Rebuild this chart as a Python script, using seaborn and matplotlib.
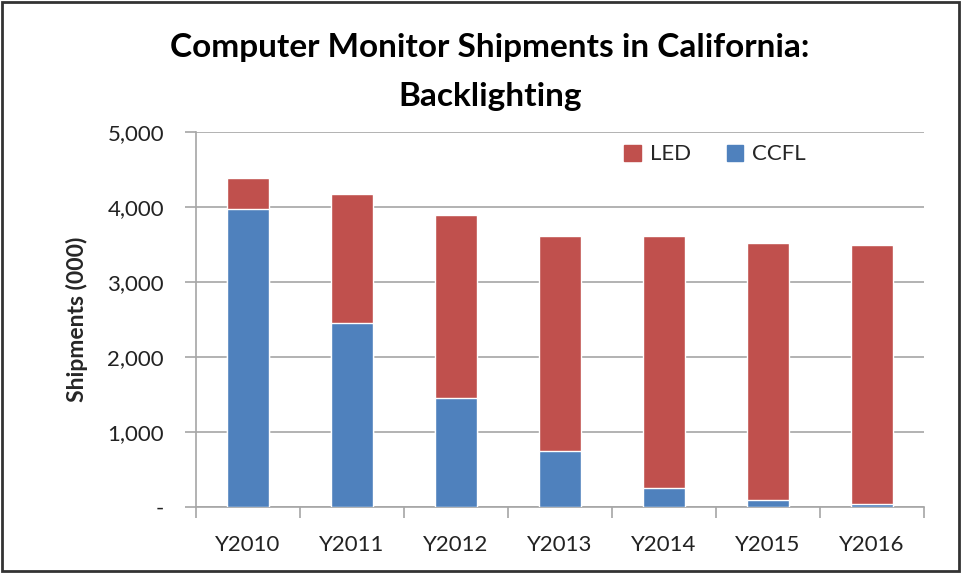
import matplotlib
matplotlib.use("Agg")
import matplotlib.pyplot as plt
import matplotlib.ticker as mticker
from matplotlib.patches import Rectangle, Patch
import seaborn as sns
import pandas as pd
import numpy as np

# data (thousands of units)
years = ["Y2010", "Y2011", "Y2012", "Y2013", "Y2014", "Y2015", "Y2016"]
ccfl = [3980, 2450, 1460, 750, 255, 100, 45]
led = [410, 1720, 2435, 2870, 3365, 3415, 3455]

led_color = "#C0504D"
ccfl_color = "#4F81BD"
grid_color = "#A6A6A6"

df = pd.DataFrame({"year": years, "CCFL": ccfl, "LED": led})
df["total"] = df["CCFL"] + df["LED"]

sns.set_style("white")
plt.rcParams["font.family"] = ["Lato", "DejaVu Sans"]

fig = plt.figure(figsize=(9.63, 5.73), dpi=100)
ax = fig.add_axes([196 / 963, 1 - 507 / 573, (924 - 196) / 963, (507 - 132) / 573])

# stacked: total (LED on top) first, then CCFL part over it
sns.barplot(data=df, x="year", y="total", color=led_color, width=0.4,
            saturation=1, ax=ax, zorder=2)
sns.barplot(data=df, x="year", y="CCFL", color=ccfl_color, width=0.4,
            saturation=1, ax=ax, zorder=3)

ax.set_ylim(0, 5000)
ax.set_xlim(-0.5, len(years) - 0.5)
ax.yaxis.set_major_locator(mticker.MultipleLocator(1000))
ax.yaxis.set_major_formatter(mticker.FuncFormatter(
    lambda v, p: "-" if v == 0 else f"{int(v):,}"))
ax.grid(axis="y", color=grid_color, linewidth=1.2, zorder=0)
ax.set_axisbelow(True)

for s in ["top", "right"]:
    ax.spines[s].set_visible(False)
for s in ["left", "bottom"]:
    ax.spines[s].set_color(grid_color)
    ax.spines[s].set_linewidth(1.2)

# x ticks at category boundaries, labels centred
ax.set_xticks(np.arange(len(years) + 1) - 0.5)
ax.set_xticklabels([])
ax.set_xticks(np.arange(len(years)), minor=True)
ax.set_xticklabels(years, minor=True)
ax.tick_params(axis="x", which="major", length=8, width=1.2, color=grid_color,
               direction="out", bottom=True)
ax.tick_params(axis="x", which="minor", length=0, pad=20, labelsize=16,
               labelcolor="#222222")
ax.tick_params(axis="y", length=8, width=1.2, color=grid_color, direction="out",
               left=True, pad=15, labelsize=16, labelcolor="#222222")

ax.set_xlabel("")
ax.set_ylabel("Shipments (000)", fontsize=16.5, fontweight="bold", labelpad=14)

handles = [Patch(color=led_color, label="LED"), Patch(color=ccfl_color, label="CCFL")]
ax.legend(handles=handles, loc="upper right", bbox_to_anchor=(0.865, 1.02), ncol=2,
          frameon=False, fontsize=16, handlelength=0.75, handleheight=0.75,
          columnspacing=1.6, handletextpad=0.4)

fig.text(490 / 963, 1 - 72 / 573,
         "Computer Monitor Shipments in California:\nBacklighting",
         ha="center", va="center", fontsize=24, fontweight="bold",
         linespacing=1.8, color="black")

fig.patches.append(Rectangle((0.002, 0.004), 0.994, 0.992, transform=fig.transFigure,
                             fill=False, edgecolor="#333333", linewidth=2))

fig.savefig("out.png", dpi=100)
